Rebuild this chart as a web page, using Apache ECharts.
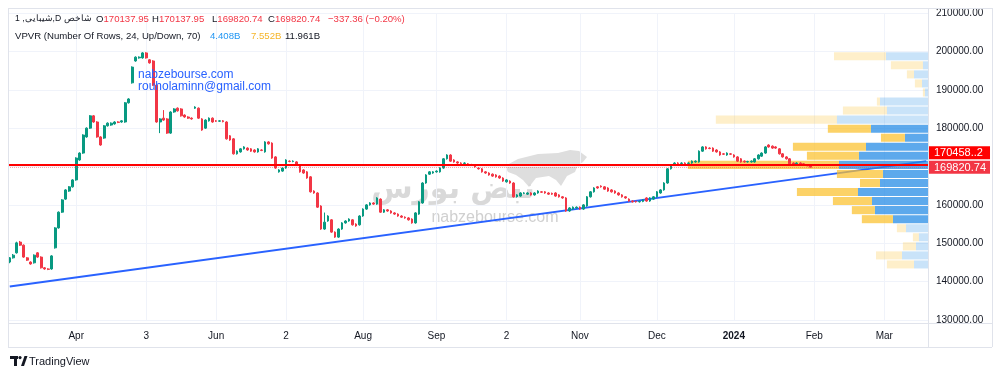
<!DOCTYPE html>
<html><head><meta charset="utf-8">
<script src="https://cdn.jsdelivr.net/npm/echarts@6/dist/echarts.min.js"></script>
<style>html,body{margin:0;padding:0;background:#fff;}#c{width:1000px;height:376px;}</style>
</head><body><div id="c"></div>
<script>
// ---------- data ----------
const categoryCount = 263; // trading-day slots incl. right offset
const categories = Array.from({ length: categoryCount }, (_, i) => String(i));
const tickIndex = [19, 39, 59, 79, 101, 122, 142, 163, 185, 207, 230, 250];
const tickText = ['Apr', '3', 'Jun', '2', 'Aug', 'Sep', '2', 'Nov', 'Dec', '2024', 'Feb', 'Mar'];
const yMin = 130000, yMax = 210000, yStep = 10000;

// [open, close, low, high]
const ohlc = [
[145100,146200,144800,146400],[146200,146900,146000,147200],[147500,150100,147300,150400],[150300,149500,149300,150600],
[149500,146400,146200,149700],[146200,145600,145400,146400],[145100,144600,144400,145300],[144900,146900,144700,147100],
[147500,146400,146200,147700],[146400,143600,143400,146600],[143600,143300,143100,143800],[143300,143200,143000,143500],
[143300,146700,143100,146900],[148800,154000,148600,154200],[154000,158100,153800,158300],[158100,161300,157900,161500],
[161500,163900,161300,164100],[163600,164700,163400,164900],[164700,166500,164500,166700],[166500,172200,166300,172400],
[171700,173500,171500,173700],[173500,178200,173300,178400],[177700,180000,177500,180200],[180000,183200,179800,183400],
[183200,181600,181400,183400],[181600,177700,177500,181800],[177700,175600,175400,177900],[177400,180600,177200,180800],
[180600,181300,180400,181500],[180800,181300,180600,181500],[181100,181600,180900,181800],[181600,181500,181300,181800],
[181600,181900,181400,182100],[181600,186600,181400,186800],[186600,187600,186400,187800],[191800,195900,191600,196100],
[197500,198500,197300,198700],[198300,198500,198100,198700],[198300,199600,198100,199800],[199600,198300,198100,199800],
[197800,197000,196800,198000],[197500,191200,191000,197700],[191200,181600,181400,191400],[181600,182400,178700,182600],
[182600,182100,181900,184700],[182400,178700,178500,182600],[178700,184200,178500,184400],[184200,185000,184000,185200],
[185200,184500,184300,185400],[185000,183200,183000,185200],[183400,182900,182700,183600],[182900,182600,182400,183100],
[182600,182400,182200,182800],[185200,185500,185000,185700],[185200,182600,182400,185400],[182400,179500,179300,182600],
[180000,182100,179800,182300],[181900,182600,181700,182800],[182600,181600,181400,182800],[181900,181800,181600,182100],
[181800,181900,181600,182100],[181900,181700,181500,182100],[181600,177200,177000,181800],[178000,176900,176700,178200],
[177200,173300,173100,177400],[173300,174000,173100,174200],[173800,174600,173600,174800],[174600,175100,174400,175300],
[174800,174300,174100,175000],[174600,174000,173800,174800],[174300,173800,173600,174500],[173800,174600,173600,174800],
[174300,174200,174000,174500],[173800,176400,173600,176600],[176400,175900,175700,176600],[176100,172200,172000,176300],
[172500,169600,169400,172700],[168600,169100,168400,169300],[168800,169600,168600,169800],[169600,171700,169400,171900],
[171400,171300,171100,171600],[171300,171400,171100,171600],[171200,170400,170200,171400],[170400,168600,168400,170600],
[169100,168300,168100,169300],[168600,167000,166800,168800],[167300,163400,163200,167500],[163600,163100,162900,163800],
[163100,159400,159200,163300],[159700,153700,153500,159900],[153700,155500,153500,158000],[155800,157100,155600,157300],
[156100,152900,152700,156300],[152900,151600,151400,153100],[151600,153700,151400,153900],[153700,155300,153500,155500],
[155300,155800,155100,156000],[155800,156300,155600,156500],[156100,154800,154600,156300],[155000,154500,154300,155200],
[154800,157100,154600,157300],[157100,158900,156900,159100],[158900,160000,158700,160200],[160000,160500,159800,160700],
[160500,160200,160000,160700],[160200,161800,160000,162000],[161500,158100,157900,161700],[158100,158700,157900,158900],
[158700,158400,158200,158900],[158400,157900,157700,158600],[157900,157600,157400,158100],[157600,157100,156900,157800],
[157100,156800,156600,157300],[156800,156600,156400,157000],[156600,156100,155900,156800],[156300,155300,155100,156500],
[155300,157900,155100,158100],[157600,160800,157400,161000],[160500,165700,160300,165900],[165700,167800,165500,168000],
[168000,168600,167800,168800],[168300,168600,168100,168800],[168600,168800,168400,169000],[168600,169600,168400,169800],
[169600,172000,169400,172200],[172000,173000,171800,173200],[173000,171400,171200,173200],[171700,171200,171000,171900],
[171200,170900,170700,171400],[170900,170800,170600,171100],[170800,170900,170600,171100],[170700,170500,170300,170900],
[170500,170400,170200,170700],[170100,169900,169700,170300],[169600,169400,169200,169800],[169400,168600,168400,169600],
[168600,168300,168100,168800],[168300,167800,167600,168500],[168000,167500,167300,168200],[167800,167300,167100,168000],
[167500,167000,166800,167700],[167000,166200,166000,167200],[166000,166500,165800,166700],[166200,165700,165500,166400],
[165700,162100,161900,165900],[162100,162600,161900,162800],[162300,163100,162100,163300],[163000,163100,162800,163300],
[162800,163100,162600,163300],[163100,162600,162400,163300],[162600,163100,162400,163300],[163100,163600,162900,163800],
[163400,163300,163100,163600],[163400,163100,162900,163600],[163100,162800,162600,163300],[163000,162800,162600,163200],
[163100,162300,162100,163300],[162600,162100,161900,162800],[162100,161800,161600,162300],[161800,158400,158200,162000],
[158400,159200,158200,159400],[158900,159400,158700,159600],[159200,159400,159000,159600],[159400,158900,158700,159600],
[158900,160000,158700,160200],[159700,162100,159500,162300],[162100,163400,161900,163600],[163400,164400,163200,164600],
[164700,164400,164200,164900],[164900,164700,164500,165100],[164700,164100,163900,164900],[164400,163600,163400,164600],
[163900,163400,163200,164100],[163600,163100,162900,163800],[163100,162600,162400,163300],[162600,162100,161900,162800],
[162100,161800,161600,162300],[161500,161000,160800,161700],[161000,160800,160600,161200],[160900,160800,160600,161100],
[160800,160900,160600,161100],[160900,161300,160700,161500],[161800,161000,160800,162000],[161000,161800,160800,162000],
[161500,162100,161300,162300],[162100,163400,161900,163600],[163100,163900,162900,164100],[163900,165700,163700,165900],
[165700,169400,165500,169600],[169400,170100,169200,170300],[170700,170900,170500,171100],[170900,170800,170600,171100],
[170800,170900,170600,171100],[170900,170700,170500,171100],[170800,170900,170600,171100],[170900,171400,170700,171600],
[171200,171400,171000,171600],[171200,174000,171000,174200],[174000,175100,173800,175300],[175100,174600,174400,175300],
[174800,174700,174500,175000],[174800,174000,173800,175000],[174300,173800,173600,174500],[173800,173000,172800,174000],
[173300,173200,173000,173500],[173000,173500,172800,173700],[173300,173200,173000,173500],[173000,172500,172300,173200],
[172500,171400,171200,172700],[172000,171200,171000,172200],[171400,171200,171000,171600],[171200,171300,171000,171500],
[171200,171400,171000,171600],[171200,172000,171000,172200],[172000,173000,171800,173200],[172700,173500,172500,173700],
[173500,175100,173300,175300],[175600,175100,174900,175800],[175300,174800,174600,175500],[175100,174800,174600,175300],
[174600,173300,173100,174800],[173300,172500,172300,173500],[172500,172000,171800,172700],[172000,170700,170500,172200],
[170900,170400,170200,171100],[170700,170900,170500,171100],[170900,170700,170500,171100],[170700,170500,170300,170900],
[170400,170158.1,170100,170600],[170137.95,169820.74,169820.74,170137.95]
];

const trendLine = [[0, 138750], [262, 171400]];
const hLineLevel = 170458.2;
const hLineLabel = '170458..2';
const lastClose = 169820.74;

// Volume profile (rows bottom -> top), volumes in millions
const vpLow = 143300, vpHigh = 199900, vpRows = 24;
const vpUp   = [91,169,78,59,143,228,345,364,455,312,293,579,449,403,150,371,592,267,312,20,39,91,33,273];
const vpDown = [176,169,85,39,59,202,150,254,397,130,299,982,338,475,156,280,787,286,20,13,46,46,208,338];
const vpValueArea = [0,0,0,0,0,1,1,1,1,1,1,1,1,1,1,1,0,0,0,0,0,0,0,0];
const vpScaleMax = 5980;

const headerTitle = '1 ,شیبایی,D شاخص';
const headerOHLC = [['O', '170137.95'], ['H', '170137.95'], ['L', '169820.74'], ['C', '169820.74']];
const headerChange = '−337.36 (−0.20%)';
const vpvrTitle = 'VPVR (Number Of Rows, 24, Up/Down, 70)';
const vpvrTotals = ['4.408B', '7.552B', '11.961B'];

// ---------- chart ----------
const FONT = '"Liberation Sans", Arial, sans-serif';
const HF = 9.6; // header font size
const TXT = '#131722', UP = '#089981', DOWN = '#f23645', FRAME = '#e0e3eb', GRID = '#f0f3fa';
const rowH = (vpHigh - vpLow) / vpRows;
const chart = echarts.init(document.getElementById('c'), null, { renderer: 'canvas' });

function fline(x1, y1, x2, y2) {
  return { type: 'line', silent: true, z: 50, shape: { x1, y1, x2, y2 }, style: { stroke: FRAME, lineWidth: 1 } };
}
function txt(x, y, text, fill, extra) {
  return { type: 'text', x, y, z: 60, silent: true,
    style: Object.assign({ text, fill, fontSize: HF, fontFamily: FONT, verticalAlign: 'middle' }, extra || {}) };
}

const ohlcX = [96, 152, 212, 268];
const graphicEls = [txt(15, 19, headerTitle, TXT, { fontSize: 8.6 })];
headerOHLC.forEach((p, i) => {
  graphicEls.push(txt(ohlcX[i], 19, '{k|' + p[0] + '}{v|' + p[1] + '}', TXT, {
    rich: { k: { fill: TXT, fontSize: HF, fontFamily: FONT }, v: { fill: DOWN, fontSize: HF, fontFamily: FONT } } }));
});
graphicEls.push(txt(328, 19, headerChange, DOWN));
graphicEls.push(txt(15, 36, vpvrTitle, TXT));
graphicEls.push(txt(210, 36, vpvrTotals[0], '#2196f3'));
graphicEls.push(txt(251, 36, vpvrTotals[1], '#f5b52a'));
graphicEls.push(txt(285, 36, vpvrTotals[2], TXT));

graphicEls.push(
  fline(8, 8.5, 992, 8.5), fline(8.5, 8, 8.5, 347), fline(992.5, 8, 992.5, 347),
  fline(8, 347.5, 992, 347.5), fline(8, 323.5, 992, 323.5), fline(928.5, 8, 928.5, 347),
  { type: 'polygon', silent: true, z: 0,
    shape: { points: [[505,166],[518,159],[538,154],[558,153],[570,150],[579,151],[587,157],[583,162],[578,165],[575,172],[567,176],[561,186],[556,180],[549,176],[536,178],[529,187],[523,180],[516,175],[508,172]] },
    style: { fill: '#dedede' } },
  Object.assign(txt(453, 190, 'نبض بورس', '#d9d9d9', { fontSize: 30, fontWeight: 'bold', fontFamily: '"DejaVu Sans", sans-serif', align: 'center' }), { z: 0 }),
  Object.assign(txt(495, 218, 'nabzebourse.com', '#d0d0d0', { fontSize: 16, align: 'center' }), { z: 0 }),
  txt(138, 75, 'nabzebourse.com', '#2962ff', { fontSize: 12 }),
  txt(138, 87, 'rouholaminn@gmail.com', '#2962ff', { fontSize: 12 }),
  { type: 'rect', silent: true, shape: { x: 10, y: 356, width: 8, height: 3 }, style: { fill: TXT } },
  { type: 'rect', silent: true, shape: { x: 14, y: 356, width: 3, height: 10 }, style: { fill: TXT } },
  { type: 'circle', silent: true, shape: { cx: 20, cy: 357.6, r: 1.6 }, style: { fill: TXT } },
  { type: 'polygon', silent: true, shape: { points: [[21,366],[24.5,356],[27.5,356],[24,366]] }, style: { fill: TXT } },
  txt(29, 361.5, 'TradingView', TXT, { fontSize: 11 })
);

const option = {
  animation: false,
  backgroundColor: '#ffffff',
  grid: { left: 8, right: 72, top: 13, bottom: 56, containLabel: false },
  xAxis: [{
    type: 'category', data: categories, boundaryGap: true, gridIndex: 0,
    axisLine: { show: false }, axisTick: { show: false },
    axisLabel: {
      interval: (i) => tickIndex.includes(i), margin: 11, color: TXT, fontSize: 10, fontFamily: FONT,
      formatter: (v, i) => { const t = tickText[tickIndex.indexOf(i)]; return t === '2024' ? '{b|2024}' : t; },
      rich: { b: { fontWeight: 'bold', fontSize: 10, fontFamily: FONT, color: TXT } }
    },
    splitLine: { show: true, alignWithLabel: true, interval: (i) => tickIndex.includes(i), lineStyle: { color: GRID, width: 1 } }
  }, {
    type: 'value', gridIndex: 0, position: 'top', inverse: true, min: 0, max: vpScaleMax, show: false
  }],
  yAxis: [{
    type: 'value', position: 'right', min: yMin, max: yMax, interval: yStep, scale: false,
    axisLine: { show: false }, axisTick: { show: false },
    axisLabel: { margin: 8, color: TXT, fontSize: 10, fontFamily: FONT,
      formatter: (v) => (v === 170000 ? '' : v.toFixed(2)) },
    splitLine: { lineStyle: { color: GRID, width: 1 } }
  }],
  series: [{
    name: 'trend', type: 'line', xAxisIndex: 0, yAxisIndex: 0, data: trendLine, z: 1,
    showSymbol: false, symbol: 'none', silent: true, lineStyle: { color: '#2962ff', width: 2 }
  }, {
    name: 'vpvr', type: 'custom', xAxisIndex: 1, yAxisIndex: 0, z: 2, silent: true,
    data: vpUp.map((u, k) => [u + vpDown[k], vpLow + (k + 0.5) * rowH]),
    renderItem: function (params, api) {
      const k = params.dataIndex;
      const lo = vpLow + k * rowH, hi = lo + rowH;
      const xR = api.coord([0, lo])[0];
      const xU = api.coord([vpUp[k], lo])[0];
      const xD = api.coord([vpUp[k] + vpDown[k], lo])[0];
      const yTop = api.coord([0, hi])[1] + 0.5;
      const yBot = api.coord([0, lo])[1] - 0.5;
      const dark = vpValueArea[k] === 1;
      return { type: 'group', children: [
        { type: 'rect', shape: { x: xU, y: yTop, width: xR - xU, height: yBot - yTop },
          style: { fill: dark ? 'rgba(30,136,229,0.72)' : 'rgba(30,136,229,0.24)' } },
        { type: 'rect', shape: { x: xD, y: yTop, width: xU - xD, height: yBot - yTop },
          style: { fill: dark ? 'rgba(251,192,45,0.72)' : 'rgba(251,192,45,0.25)' } }
      ] };
    }
  }, {
    name: 'index', type: 'candlestick', xAxisIndex: 0, yAxisIndex: 0, z: 3, data: ohlc,
    barWidth: 2.2, silent: true,
    itemStyle: { color: UP, color0: DOWN, borderColor: UP, borderColor0: DOWN, borderWidth: 1 },
    markLine: {
      silent: true, symbol: 'none', animation: false, label: { show: false },
      data: [
        { yAxis: hLineLevel, lineStyle: { color: '#ff0000', width: 2, type: 'solid' } },
        { yAxis: lastClose, lineStyle: { color: 'rgba(242,54,69,0.45)', width: 1, type: 'dotted' } }
      ]
    }
  }],
  graphic: { elements: graphicEls }
};
chart.setOption(option);

// price-scale labels positioned from the axis scale
const yLast = chart.convertToPixel({ yAxisIndex: 0 }, lastClose);
const yLine = Math.min(chart.convertToPixel({ yAxisIndex: 0 }, hLineLevel), yLast - 14.5);
function priceTag(yc, text, bg) {
  return { type: 'group', z: 70, silent: true, children: [
    { type: 'rect', shape: { x: 929, y: yc - 6.5, width: 61, height: 13 }, style: { fill: bg } },
    { type: 'text', x: 934, y: yc + 0.5, style: { text, fill: '#ffffff', fontSize: 11, fontFamily: FONT, verticalAlign: 'middle' } }
  ] };
}
option.graphic = { elements: graphicEls.concat([
  priceTag(yLine, hLineLabel, '#ff0000'),
  priceTag(yLast, lastClose.toFixed(2), '#f23645')
]) };
chart.setOption(option, true);
</script></body></html>
